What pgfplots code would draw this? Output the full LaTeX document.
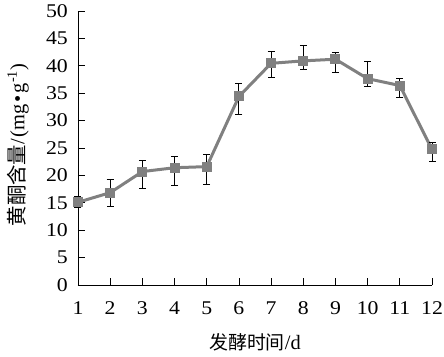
\documentclass[border=0pt]{standalone}
\usepackage{pgfplots}
\pgfplotsset{compat=1.18}
\usepackage{fontspec}
\setmainfont{Liberation Serif}
\newfontfamily\tickfont[FakeStretch=1.12]{Liberation Serif}
\newfontfamily\cjk{Noto Sans CJK SC}
\usetikzlibrary{calc}
\definecolor{linegray}{RGB}{128,128,128}
\begin{document}
\begin{tikzpicture}
\begin{axis}[
  name=ax,
  scale only axis,
  width=354bp, height=274bp,
  xmin=1, xmax=12, ymin=0, ymax=50,
  xtick={1,...,12}, ytick={0,5,...,50},
  axis lines*=left,
  tick align=inside,
  major tick length=7bp,
  axis line style={black, line width=0.8pt},
  tick style={black, line width=0.8pt},
  /pgf/number format/assume math mode=true,
  tick label style={font=\tickfont\fontsize{19.5}{19.5}\selectfont, inner sep=0pt},
  xticklabel style={anchor=center, yshift=-23bp},
  yticklabel style={anchor=east, xshift=-10bp},
  every axis x label/.style={at={(axis description cs:0.5,0)}, yshift=-57bp, anchor=center},
  every axis y label/.style={at={(axis description cs:0,0.5)}, xshift=-60bp, yshift=3bp, rotate=90, anchor=center},
  xlabel={{\cjk\fontsize{19}{19}\selectfont 发酵时间}/d},
  ylabel={{\cjk 黄酮含量}/\kern2bp(mg\kern2bp•\kern2bp g\textsuperscript{-1})},
  label style={font=\fontsize{20.5}{20.5}\selectfont},
  clip=false,
]
\addplot[linegray, line width=3bp, mark=square*, mark size=4.5bp,
  mark options={fill=linegray, draw=linegray, line width=0pt},
  error bars/.cd, y dir=both, y explicit,
  error bar style={black, line width=0.9pt},
  error mark options={rotate=90, black, mark size=3.5bp, line width=0.9pt}]
coordinates {
  (1,15.1) += (0,1.0) -= (0,1.0)
  (2,16.85) += (0,2.4) -= (0,2.6)
  (3,20.7) += (0,2.1) -= (0,3.0)
  (4,21.4) += (0,2.0) -= (0,3.3)
  (5,21.6) += (0,2.3) -= (0,3.2)
  (6,34.4) += (0,2.3) -= (0,3.3)
  (7,40.45) += (0,2.15) -= (0,2.5)
  (8,40.9) += (0,2.9) -= (0,1.5)
  (9,41.2) += (0,1.2) -= (0,2.5)
  (10,37.65) += (0,3.1) -= (0,1.35)
  (11,36.4) += (0,1.25) -= (0,2.2)
  (12,24.75) += (0,1.25) -= (0,2.25)
};
\end{axis}
\pgfresetboundingbox
\path ($(ax.south west)+(-78bp,-72bp)$) rectangle ($(ax.north east)+(12bp,11bp)$);
\end{tikzpicture}
\end{document}
